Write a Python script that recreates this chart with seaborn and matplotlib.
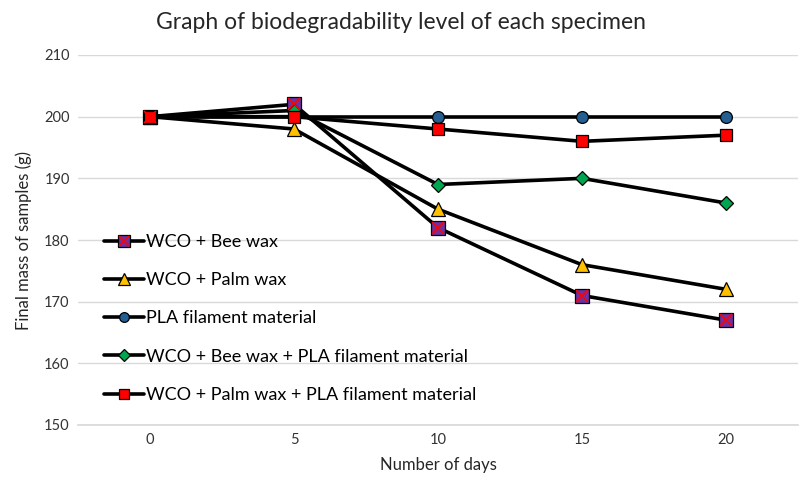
import matplotlib
matplotlib.use("Agg")
import matplotlib.pyplot as plt
from matplotlib.lines import Line2D
import seaborn as sns
import pandas as pd

# Measurements: final mass (g) after each number of days
days = [0, 5, 10, 15, 20]
wco_bee_wax = [200, 202, 182, 171, 167]
wco_palm_wax = [200, 198, 185, 176, 172]
pla_filament = [200, 200, 200, 200, 200]
wco_bee_pla = [200, 201, 189, 190, 186]
wco_palm_pla = [200, 200, 198, 196, 197]

labels = [
    "WCO + Bee wax",
    "WCO + Palm wax",
    "PLA filament material",
    "WCO + Bee wax + PLA filament material",
    "WCO + Palm wax + PLA filament material",
]
series = [wco_bee_wax, wco_palm_wax, pla_filament, wco_bee_pla, wco_palm_pla]

sns.set_theme(style="white")
plt.rcParams["font.family"] = ["Lato", "DejaVu Sans"]

fig = plt.figure(figsize=(8.01, 4.88), dpi=100)
ax = fig.add_axes([78 / 801, 1 - 425 / 488, 720 / 801, 370 / 488])

styles = [
    dict(marker="s", markerfacecolor="#7030A0", markersize=10),
    dict(marker="^", markerfacecolor="#FFC000", markersize=10),
    dict(marker="o", markerfacecolor="#255E91", markersize=8.5),
    dict(marker="D", markerfacecolor="#00A550", markersize=7),
    dict(marker="s", markerfacecolor="#FF0000", markersize=8.5),
]
legend_sizes = [8, 8, 7, 6, 7]

handles = []
for lab, vals, st, ls in zip(labels, series, styles, legend_sizes):
    df = pd.DataFrame({"days": days, "mass": vals})
    sns.lineplot(data=df, x="days", y="mass", ax=ax, color="black",
                 linewidth=2.6, markeredgecolor="black", markeredgewidth=0.9,
                 zorder=3, **st)
    hst = dict(st, markersize=ls)
    handles.append(Line2D([], [], color="black", linewidth=2.6,
                          markeredgecolor="black", markeredgewidth=0.9, **hst))

# red cross drawn over the purple squares of the bee wax series
df_bee = pd.DataFrame({"days": days, "mass": wco_bee_wax})
sns.lineplot(data=df_bee, x="days", y="mass", ax=ax, linestyle="",
             marker="x", markersize=9, markeredgecolor="#FF0000",
             markeredgewidth=1.2, zorder=4)
cross = Line2D([], [], linestyle="", marker="x", markersize=7,
               markeredgecolor="#FF0000", markeredgewidth=1.1)
handles[0] = (handles[0], cross)

ax.set_xlim(-2.5, 22.5)
ax.set_ylim(150, 210)
ax.set_xticks(days)
ax.set_yticks(range(150, 211, 10))
ax.grid(axis="y", color="#d9d9d9", linewidth=1)
ax.set_axisbelow(True)
for s in ["top", "right", "left"]:
    ax.spines[s].set_visible(False)
ax.spines["bottom"].set_color("#d9d9d9")
ax.tick_params(axis="both", length=0, labelsize=10.5, colors="#333333", pad=6)

ax.set_xlabel("Number of days", fontsize=12, color="#262626", labelpad=7)
ax.set_ylabel("Final mass of samples (g)", fontsize=12, color="#262626", labelpad=9)
fig.suptitle("Graph of biodegradability level of each specimen",
             fontsize=16.5, color="#262626", x=0.5, y=0.975)

ax.legend(handles, labels, loc="upper left", bbox_to_anchor=(104 / 801, 1 - 234 / 488),
          bbox_transform=fig.transFigure, frameon=False, fontsize=13,
          handlelength=2.2, handletextpad=0.15, labelspacing=1.23, borderpad=0,
          borderaxespad=0, labelcolor="black")

fig.savefig("out.png", dpi=100)
